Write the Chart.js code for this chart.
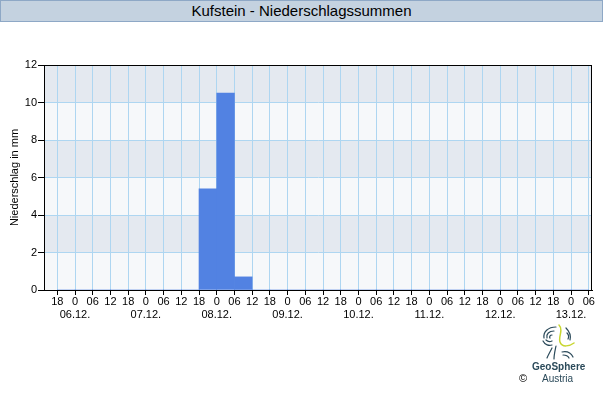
<!DOCTYPE html>
<html>
<head>
<meta charset="utf-8">
<script src="https://cdn.jsdelivr.net/npm/chart.js@4"></script>
<style>
  html, body { margin: 0; padding: 0; background: #fff; }
  body { width: 603px; height: 400px; position: relative; overflow: hidden; font-family: 'Liberation Sans', Arial, sans-serif; }
  #titlebar {
    position: absolute; left: 0; top: 0; width: 601px; height: 20px;
    background: #c4d2e0; border: 1px solid #8ea8c6;
    text-align: center; font-size: 15px; line-height: 20px; color: #000;
  }
  #wrap { position: absolute; left: 0; top: 0; width: 603px; height: 400px; }
  #logo { position: absolute; left: 540px; top: 324px; }
  #geo { position: absolute; left: 532px; top: 361px; font-size: 10px; font-weight: bold; color: #2b4a5a; }
  #austria { position: absolute; left: 542px; top: 373px; font-size: 10px; color: #2b4a5a; }
  #copy { position: absolute; left: 519px; top: 372px; font-size: 11px; color: #000; }
</style>
</head>
<body>
<div id="wrap"><canvas id="chart" width="603" height="400"></canvas></div>
<div id="titlebar">Kufstein - Niederschlagssummen</div>
<svg id="logo" width="36" height="36" viewBox="0 0 36 36">
  <g fill="none" stroke="#2b4a5a" stroke-width="1.2" stroke-linecap="round">
    <path d="M16 3 C8 3 3 8 4 14"/>
    <path d="M14 7 C9 7 6 10 7 14"/>
    <path d="M12 11 C10 11 9 13 10 14"/>
    <path d="M3 17 C5 21 9 22 12 21"/>
    <path d="M6 16 C8 18 10 18 12 17"/>
    <path d="M12 24 C10 28 8 31 7 34"/>
    <path d="M16 22 C15 27 14 31 14 35"/>
    <path d="M26 4 C30 8 31 12 30 16"/>
    <path d="M27 9 C29 11 29 13 28 15"/>
    <path d="M22 28 C27 27 31 29 33 33"/>
    <path d="M23 31 C26 31 28 32 29 34"/>
  </g>
  <path d="M19 1 C24 6 18 12 20 18 C22 24 30 22 34 19" fill="none" stroke="#c8d630" stroke-width="1.5" stroke-linecap="round"/>
</svg>
<div id="copy">©</div>
<div id="geo">GeoSphere</div>
<div id="austria">Austria</div>
<script>
// Niederschlagssummen in 6-Stunden-Intervallen, ab 05.12. 18 Uhr
const dates = ['06.12.', '07.12.', '08.12.', '09.12.', '10.12.', '11.12.', '12.12.', '13.12.'];
const hourLabels = ['18', '0', '06', '12'];
const precip = [
  0, 0, 0, 0,  0, 0, 0, 0,
  5.4, 10.5, 0.7, 0,  0, 0, 0, 0,
  0, 0, 0, 0,  0, 0, 0, 0,
  0, 0, 0, 0,  0, 0
];
const yTicks = [0, 2, 4, 6, 8, 10, 12];

const STEP = 6;
const tickCount = precip.length + 1;
const gridBlue = '#aed6f1';
const font = { family: "'Liberation Sans', Arial, sans-serif", size: 11 };

// Balken: Mitte des Intervalls
const barData = precip.map((v, i) => ({ x: i * STEP + STEP / 2, y: v }));

// Hintergrundbaender + Rahmen
const bandsPlugin = {
  id: 'bands',
  beforeDraw(chart) {
    const { ctx, chartArea: a, scales: { y } } = chart;
    ctx.save();
    for (let i = 0; i < yTicks.length - 1; i++) {
      const top = y.getPixelForValue(yTicks[i + 1]);
      const bot = y.getPixelForValue(yTicks[i]);
      ctx.fillStyle = i % 2 === 0 ? '#f6f8fa' : '#e4e9f0';
      ctx.fillRect(a.left, top, a.right - a.left, bot - top);
    }
    ctx.restore();
  },
  afterDraw(chart) {
    const { ctx, chartArea: a } = chart;
    ctx.save();
    ctx.strokeStyle = '#000';
    ctx.lineWidth = 1;
    ctx.strokeRect(Math.round(a.left) + 0.5, Math.round(a.top) + 0.5,
      Math.round(a.right - a.left) - 1, Math.round(a.bottom - a.top));
    ctx.restore();
  }
};

new Chart(document.getElementById('chart').getContext('2d'), {
  type: 'bar',
  data: {
    datasets: [{
      label: 'Niederschlag',
      data: barData,
      backgroundColor: '#5282e2',
      borderWidth: 0,
      barPercentage: 1,
      categoryPercentage: 1
    }]
  },
  options: {
    responsive: false,
    animation: false,
    layout: { padding: { top: 65, right: 11, left: 0, bottom: 0 } },
    plugins: { legend: { display: false }, tooltip: { enabled: false } },
    scales: {
      x: {
        type: 'linear',
        offset: false,
        min: -4.5,
        max: 181.1,
        afterBuildTicks(scale) {
          scale.ticks = Array.from({ length: tickCount }, (_, i) => ({ value: i * STEP }));
        },
        afterFit(scale) { scale.height = 110; },
        grid: { color: gridBlue, tickColor: '#000', tickLength: 5, lineWidth: 1, offset: false },
        border: { color: '#000' },
        ticks: {
          autoSkip: false,
          maxRotation: 0,
          padding: 1,
          color: '#000',
          font: Object.assign({ lineHeight: 1.15 }, font),
          callback(value) {
            const idx = Math.round(value / STEP);
            const h = hourLabels[idx % 4];
            if (h === '0') return [h, dates[(idx - 1) / 4]];
            return h;
          }
        }
      },
      y: {
        min: 0,
        max: 12,
        afterBuildTicks(scale) {
          scale.ticks = yTicks.map(v => ({ value: v }));
        },
        afterFit(scale) { scale.width = 44; },
        grid: { color: gridBlue, tickColor: '#000', tickLength: 6 },
        border: { color: '#000' },
        ticks: { color: '#000', font: font, padding: 1 },
        title: {
          display: true,
          text: 'Niederschlag in mm',
          color: '#000',
          font: { family: font.family, size: 11 },
          padding: { top: 8, bottom: 0 }
        }
      }
    }
  },
  plugins: [bandsPlugin]
});
</script>
</body>
</html>
